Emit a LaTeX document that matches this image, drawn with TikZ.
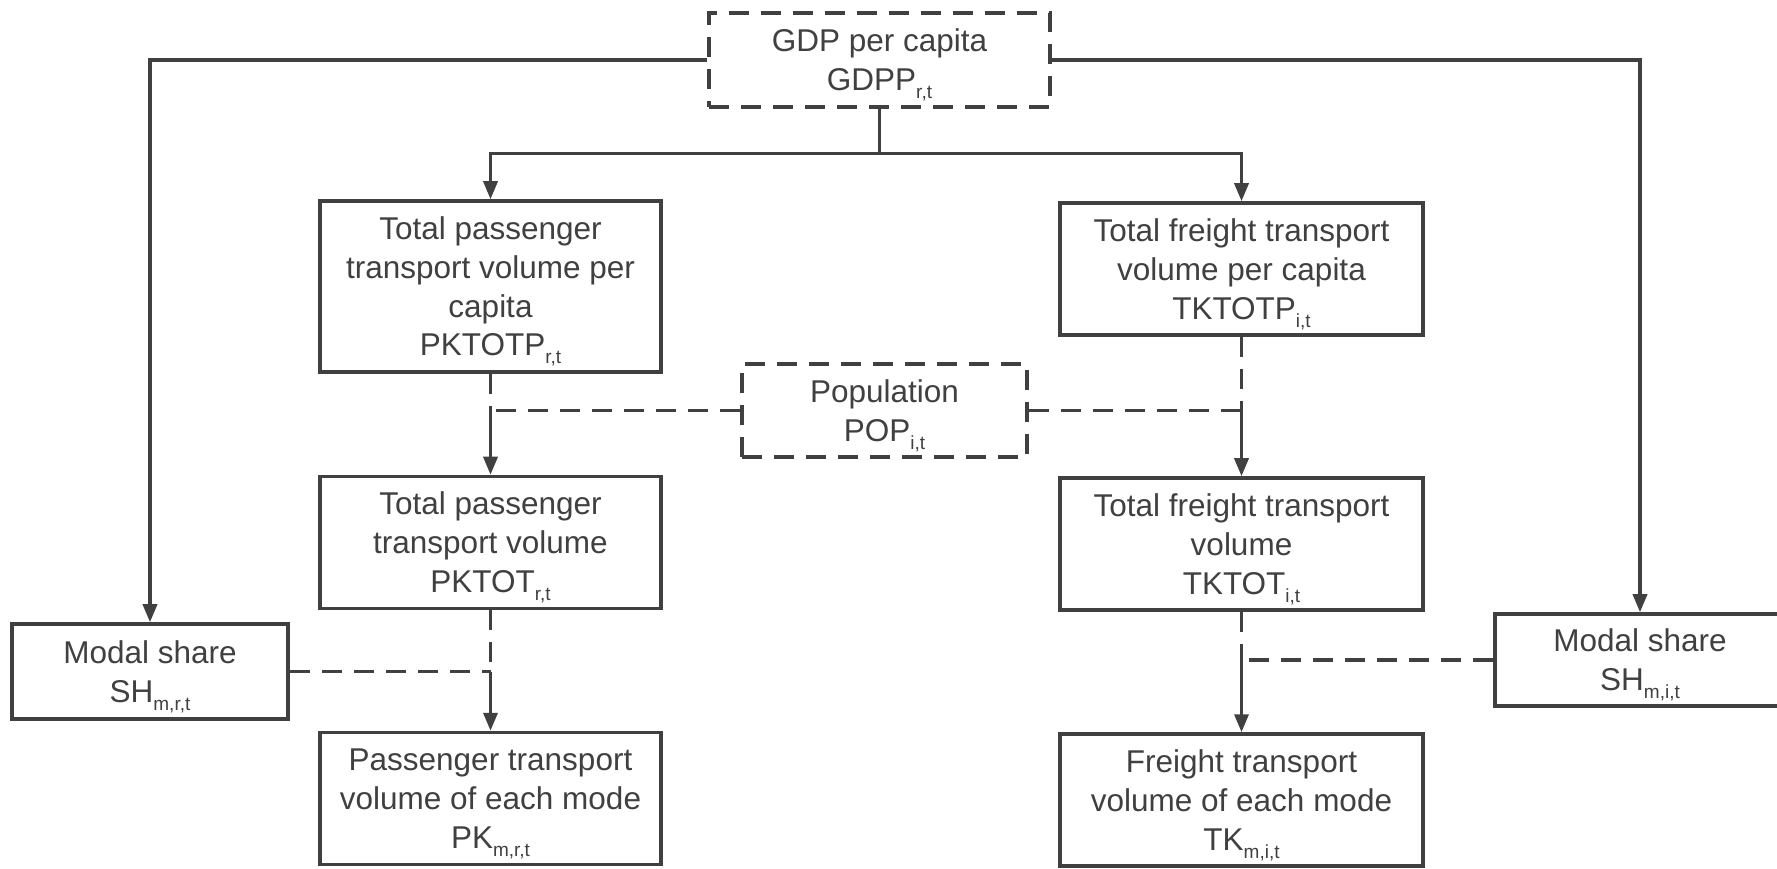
\documentclass[tikz,border=0pt]{standalone}
\usepackage{fontspec}
\setmainfont{Liberation Sans}
\usetikzlibrary{positioning,arrows.meta}
\definecolor{ink}{HTML}{404040}
\newcommand{\idx}[1]{\raisebox{-8pt}[0pt][0pt]{\fontsize{19}{19}\selectfont #1}}
\begin{document}
\begin{tikzpicture}[x=1pt, y=1pt, node distance=256pt]
\tikzset{box/.style={rectangle, draw=ink, line width=3.5pt, minimum width=341pt, minimum height=132pt, align=center, text=ink, font=\fontsize{31.5}{38.8}\selectfont, inner sep=4pt, fill=white}}
\tikzset{dbox/.style={box, dash pattern=on 20pt off 12pt}}
\tikzset{arrow/.style={-{Triangle[length=18pt, width=14pt]}, draw=ink, line width=3.5pt}}
\tikzset{link/.style={draw=ink, line width=3.5pt, dash pattern=on 20pt off 12pt}}
\useasboundingbox (0,0) rectangle (1777,868);

\node[dbox, minimum height=94pt] (gdp) at (879.5,808) {GDP per capita\\GDPP\idx{r,t}};
\node[box, minimum height=171pt] (pktotp) at (490.5,581.5) {Total passenger\\transport volume per\\capita\\PKTOTP\idx{r,t}};
\node[box, below of=pktotp] (pktot) {Total passenger\\transport volume\\PKTOT\idx{r,t}};
\node[box, below of=pktot] (pk) {Passenger transport\\volume of each mode\\PK\idx{m,r,t}};
\node[box, minimum width=363pt] (tktotp) at (1241.5,599) {Total freight transport\\volume per capita\\TKTOTP\idx{i,t}};
\node[box, minimum width=363pt, below of=tktotp, yshift=-19pt] (tktot) {Total freight transport\\volume\\TKTOT\idx{i,t}};
\node[box, minimum width=363pt, below of=tktot] (tk) {Freight transport\\volume of each mode\\TK\idx{m,i,t}};
\node[dbox, minimum width=285pt, minimum height=93pt] (pop) at (884.5,457.5) {Population\\POP\idx{i,t}};
\node[box, minimum width=276pt, minimum height=95pt] (shl) at (150,196.5) {Modal share\\SH\idx{m,r,t}};
\node[box, minimum width=290pt, minimum height=92pt] (shr) at (1640,208) {Modal share\\SH\idx{m,i,t}};

% GDP drives per-capita volumes and modal shares
\coordinate (split) at ([yshift=-45pt]gdp.south);
\draw[draw=ink, line width=3.5pt] (gdp.south) -- (split);
\draw[arrow] (split) -| (pktotp.north);
\draw[arrow] (split) -| (tktotp.north);
\draw[arrow] (gdp.west) -| (shl.north);
\draw[arrow] (gdp.east) -| (shr.north);

% population joins
\coordinate (popl) at (pktotp.south |- pop.west);
\coordinate (popr) at (tktotp.south |- pop.east);
\draw[link] (pktotp.south) -- (popl);
\draw[link] (pop.west) -- (popl);
\draw[arrow] (popl) -- (pktot.north);
\draw[link] (tktotp.south) -- (popr);
\draw[link] (pop.east) -- (popr);
\draw[arrow] (popr) -- (tktot.north);

% modal share joins
\coordinate (shlj) at (pktot.south |- shl.east);
\coordinate (shrj) at (tktot.south |- shr.west);
\draw[link] (pktot.south) -- (shlj);
\draw[link] (shl.east) -- (shlj);
\draw[arrow] (shlj) -- (pk.north);
\draw[link] (tktot.south) -- (shrj);
\draw[link] (shr.west) -- (shrj);
\draw[arrow] (shrj) -- (tk.north);
\end{tikzpicture}
\end{document}
